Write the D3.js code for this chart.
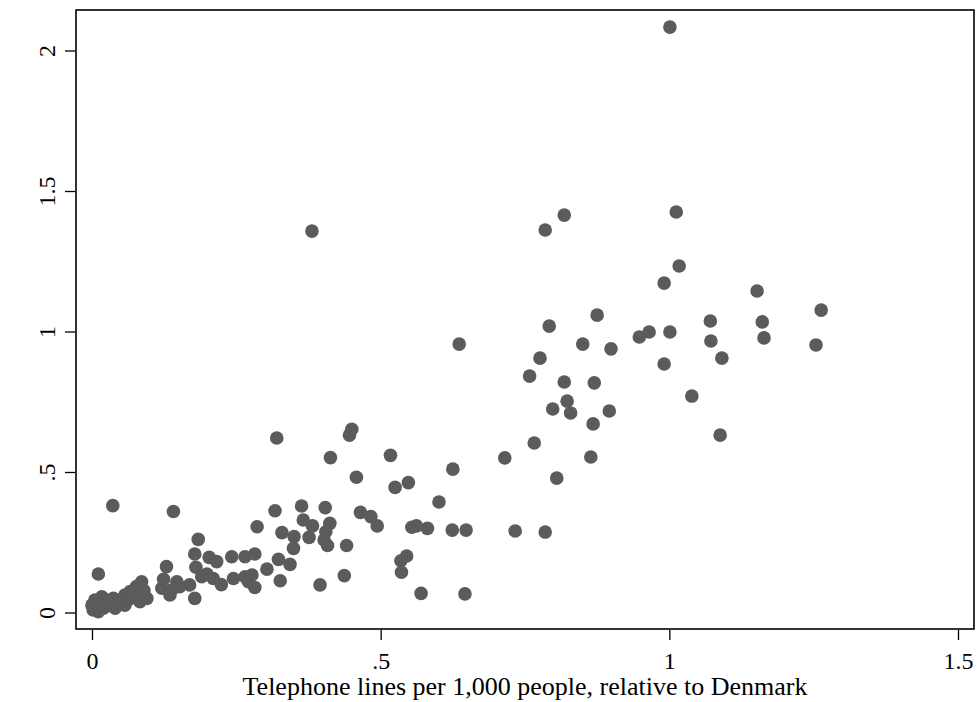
<html>

<script src="https://d3js.org/d3.v7.min.js" charset="utf-8"></script>

<style>

body {
  margin: 0;
  background: white;
}

text {
  fill: black;
  font-family: "Liberation Serif", "Times New Roman", serif;
}

</style>

<body>

</body>

<script>

// telephone lines per 1,000 people, relative to Denmark (x)
var telLines = [
	1.001, 0.381, 1.012, 0.785, 0.818, 1.017, 0.991, 1.152, 1.263, 1.161,
	1.071, 0.875, 0.792, 1.001, 0.965, 0.948, 1.164, 1.072, 0.850, 0.636,
	1.254, 0.899, 0.776, 1.091, 0.991, 0.758, 0.818, 0.870, 0.823, 1.039,
	0.798, 0.829, 0.896, 0.868, 1.088, 0.766, 0.864, 0.715, 0.805, 0.785,
	0.733, 0.648, 0.624, 0.625, 0.601, 0.646,
	0.450, 0.446, 0.413, 0.517, 0.458, 0.525, 0.548, 0.404, 0.441, 0.465,
	0.483, 0.494, 0.554, 0.562, 0.581, 0.545, 0.535, 0.536, 0.395, 0.437,
	0.570, 0.320, 0.366, 0.382, 0.412, 0.405, 0.376, 0.402, 0.408, 0.036,
	0.141, 0.317, 0.363, 0.286, 0.329, 0.350, 0.349, 0.323, 0.343, 0.303,
	0.326, 0.184, 0.178, 0.203, 0.216, 0.180, 0.199, 0.210, 0.190, 0.224,
	0.242, 0.265, 0.282, 0.245, 0.265, 0.277, 0.271, 0.282, 0.178, 0.129,
	0.124, 0.121, 0.138, 0.147, 0.152, 0.169, 0.135, 0.011, 0.086, 0.077,
	0.066, 0.095, 0.083, 0.057, 0.049, 0.057, 0.002, 0.005, 0.017, 0.025,
	0.031, 0.020, 0.011, 0.037, 0.040, 0.000, 0.065, 0.045, 0.012, 0.028,
	0.070, 0.090
];

// relative value (y)
var relValue = [
	2.085, 1.359, 1.427, 1.363, 1.416, 1.235, 1.174, 1.146, 1.078, 1.036,
	1.039, 1.060, 1.021, 1.000, 1.000, 0.982, 0.979, 0.968, 0.957, 0.957,
	0.954, 0.940, 0.907, 0.907, 0.886, 0.843, 0.822, 0.819, 0.754, 0.772,
	0.726, 0.712, 0.719, 0.673, 0.633, 0.605, 0.555, 0.552, 0.480, 0.288,
	0.292, 0.295, 0.295, 0.512, 0.395, 0.068,
	0.654, 0.633, 0.553, 0.561, 0.483, 0.447, 0.464, 0.375, 0.240, 0.358,
	0.343, 0.310, 0.305, 0.310, 0.301, 0.203, 0.186, 0.145, 0.100, 0.133,
	0.070, 0.623, 0.331, 0.310, 0.319, 0.289, 0.269, 0.260, 0.240, 0.382,
	0.361, 0.364, 0.381, 0.307, 0.286, 0.272, 0.230, 0.191, 0.173, 0.156,
	0.115, 0.262, 0.210, 0.198, 0.183, 0.163, 0.139, 0.123, 0.129, 0.101,
	0.200, 0.200, 0.210, 0.123, 0.129, 0.135, 0.111, 0.091, 0.052, 0.165,
	0.120, 0.088, 0.082, 0.111, 0.094, 0.100, 0.064, 0.139, 0.111, 0.094,
	0.076, 0.052, 0.040, 0.064, 0.046, 0.028, 0.011, 0.046, 0.058, 0.046,
	0.028, 0.017, 0.005, 0.052, 0.017, 0.028, 0.050, 0.035, 0.030, 0.040,
	0.060, 0.080
];

var xTicks = [0, 0.5, 1, 1.5];
var xTickLabels = ["0", ".5", "1", "1.5"];
var yTicks = [0, 0.5, 1, 1.5, 2];
var yTickLabels = ["0", ".5", "1", "1.5", "2"];
var xTitle = "Telephone lines per 1,000 people, relative to Denmark";

drawChart();

function drawChart() {
	var screen_w = 977;
	var screen_h = 702;
	var frame = {left: 76, top: 10, right: 974, bottom: 629};

	var svg = d3.select("body").append("svg")
		.attr("width", screen_w)
		.attr("height", screen_h);

	var x = d3.scaleLinear().domain([0, 1.5]).range([92, 958]);
	var y = d3.scaleLinear().domain([0, 2]).range([613, 51]);

	var points = telLines.map(function(d, i) { return {x: d, y: relValue[i]}; });

	svg.append("g").selectAll("circle")
		.data(points)
		.enter().append("circle")
		.attr("cx", function(d) { return x(d.x); })
		.attr("cy", function(d) { return y(d.y); })
		.attr("r", 6.8)
		.style("fill", "#5b5b5b");

	svg.append("rect")
		.attr("x", frame.left)
		.attr("y", frame.top)
		.attr("width", frame.right - frame.left)
		.attr("height", frame.bottom - frame.top)
		.style("fill", "none")
		.style("stroke", "black")
		.style("stroke-width", 1.6);

	// x axis
	var xAxis = d3.axisBottom(x)
		.tickValues(xTicks)
		.tickFormat(function(d, i) { return xTickLabels[i]; })
		.tickSize(10)
		.tickPadding(12);

	var gx = svg.append("g")
		.attr("transform", "translate(0," + (frame.bottom + 1) + ")")
		.call(xAxis);
	gx.select(".domain").remove();
	gx.selectAll("line").style("stroke", "black").style("stroke-width", 1.3);
	gx.selectAll("text")
		.style("font-family", "'Liberation Serif', serif")
		.style("font-size", "24px")
		.style("fill", "black");

	// y axis, labels rotated
	var yAxis = d3.axisLeft(y)
		.tickValues(yTicks)
		.tickFormat(function(d, i) { return yTickLabels[i]; })
		.tickSize(10)
		.tickPadding(6);

	var gy = svg.append("g")
		.attr("transform", "translate(" + (frame.left - 1) + ",0)")
		.call(yAxis);
	gy.select(".domain").remove();
	gy.selectAll("line").style("stroke", "black").style("stroke-width", 1.3);
	gy.selectAll("text")
		.attr("x", null)
		.attr("dy", null)
		.attr("transform", function(d) { return "translate(-20," + y(d) + ") rotate(-90)"; })
		.attr("y", 0)
		.style("text-anchor", "middle")
		.style("font-family", "'Liberation Serif', serif")
		.style("font-size", "24px")
		.style("fill", "black");
	// the axis puts each tick in its own translated group; undo that offset for the rotated labels
	gy.selectAll(".tick").attr("transform", null);
	gy.selectAll(".tick line").attr("y1", function(d) { return y(d); }).attr("y2", function(d) { return y(d); });

	svg.append("text")
		.attr("x", (frame.left + frame.right) / 2)
		.attr("y", 695)
		.style("text-anchor", "middle")
		.style("font-size", "26px")
		.text(xTitle);
}

</script>

</html>
